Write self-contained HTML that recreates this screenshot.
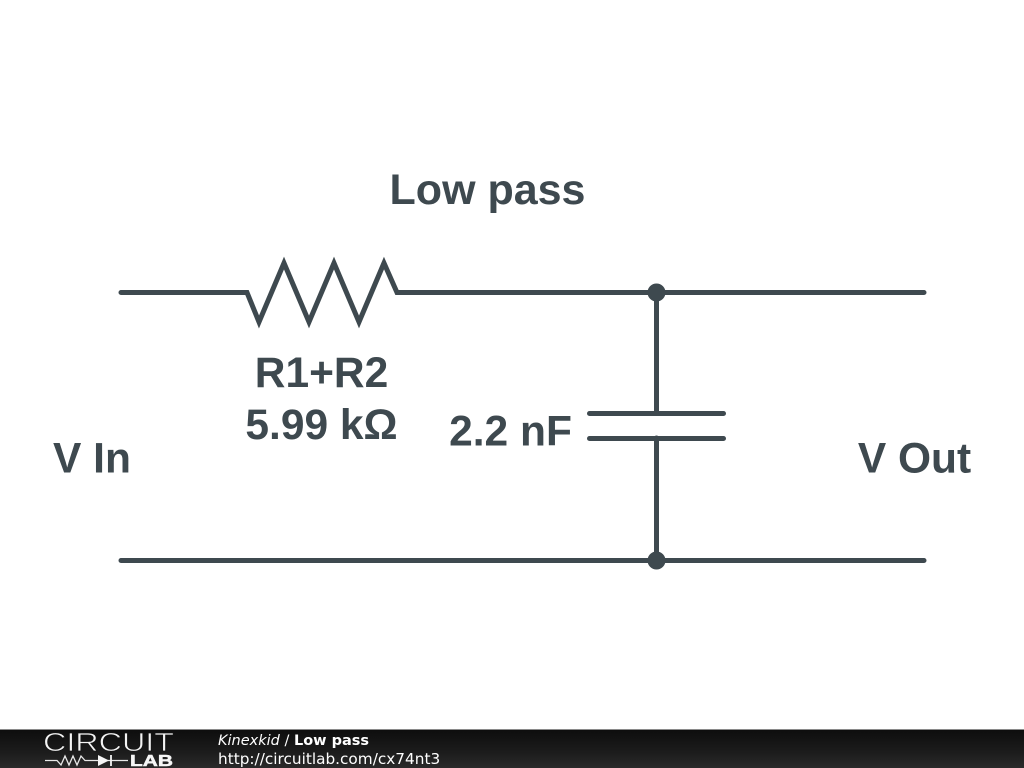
<!DOCTYPE html>
<html>
<head>
<meta charset="utf-8">
<style>
html,body{margin:0;padding:0;background:#fff;width:1024px;height:768px;overflow:hidden}
svg{display:block}
</style>
</head>
<body>
<svg width="1024" height="768" viewBox="0 0 1024 768" xmlns="http://www.w3.org/2000/svg">
<defs>
<linearGradient id="bar" x1="0" y1="0" x2="0" y2="1">
<stop offset="0" stop-color="#0d0d0d"/>
<stop offset="0.6" stop-color="#1c1c1c"/>
<stop offset="1" stop-color="#2a2a2a"/>
</linearGradient>
</defs>
<rect width="1024" height="768" fill="#fff"/>
<g fill="none" stroke="#3e494f" stroke-width="5" stroke-linecap="round" stroke-linejoin="miter" stroke-miterlimit="10">
<path d="M121 292.500H247L259 322L284 263L309 322L334 263L359 322L384 263L397 292.500H924"/>
<path d="M121 560.500H924"/>
<path d="M656.500 292.500V413"/>
<path d="M656.500 438V560.500"/>
<path d="M589.500 413.500H723.500"/>
<path d="M589.500 438.500H723.500"/>
</g>
<circle cx="656.500" cy="292.500" r="9" fill="#3e494f"/>
<circle cx="656.500" cy="560.500" r="9" fill="#3e494f"/>
<g font-family="'Liberation Sans',Arial,sans-serif" font-weight="700" font-size="42.500" fill="#3e494f" text-anchor="middle">
<text x="487.500" y="204" font-size="43">Low pass</text>
<text x="321.500" y="387">R1+R2</text>
<text x="321.500" y="439">5.99 kΩ</text>
<text x="510.500" y="445.500">2.2 nF</text>
<text x="92" y="472.500">V In</text>
<text x="914.500" y="472.500">V Out</text>
</g>
<rect x="0" y="729" width="1024" height="39" fill="url(#bar)"/>
<rect x="0" y="729" width="1024" height="1" fill="#8a8a8a"/>
<text x="43" y="751" font-family="'Liberation Sans',Arial,sans-serif" font-size="26" textLength="131" lengthAdjust="spacingAndGlyphs" fill="#f4f4f4" stroke="#151515" stroke-width="0.7">CIRCUIT</text>
<text x="130" y="766" font-family="'Liberation Sans',Arial,sans-serif" font-size="15.500" font-weight="700" textLength="43" lengthAdjust="spacingAndGlyphs" fill="#f6f6f6" stroke="#f6f6f6" stroke-width="0.5">LAB</text>
<path d="M45 760.500H57L61 765L65 756L69 765L73 756L77 765L81 756L85 760.500H128" fill="none" stroke="#e8e8e8" stroke-width="1.300"/>
<path d="M98 755V766L109 760.500Z" fill="#f6f6f6"/>
<path d="M111 755V766" stroke="#f6f6f6" stroke-width="1.800"/>
<g font-family="'DejaVu Sans',sans-serif" fill="#fff">
<text x="218" y="745" font-size="14.500"><tspan font-style="italic">Kinexkid</tspan> / <tspan font-weight="700">Low pass</tspan></text>
<text x="218" y="764" font-size="15.300">http://circuitlab.com/cx74nt3</text>
</g>
</svg>
</body>
</html>
